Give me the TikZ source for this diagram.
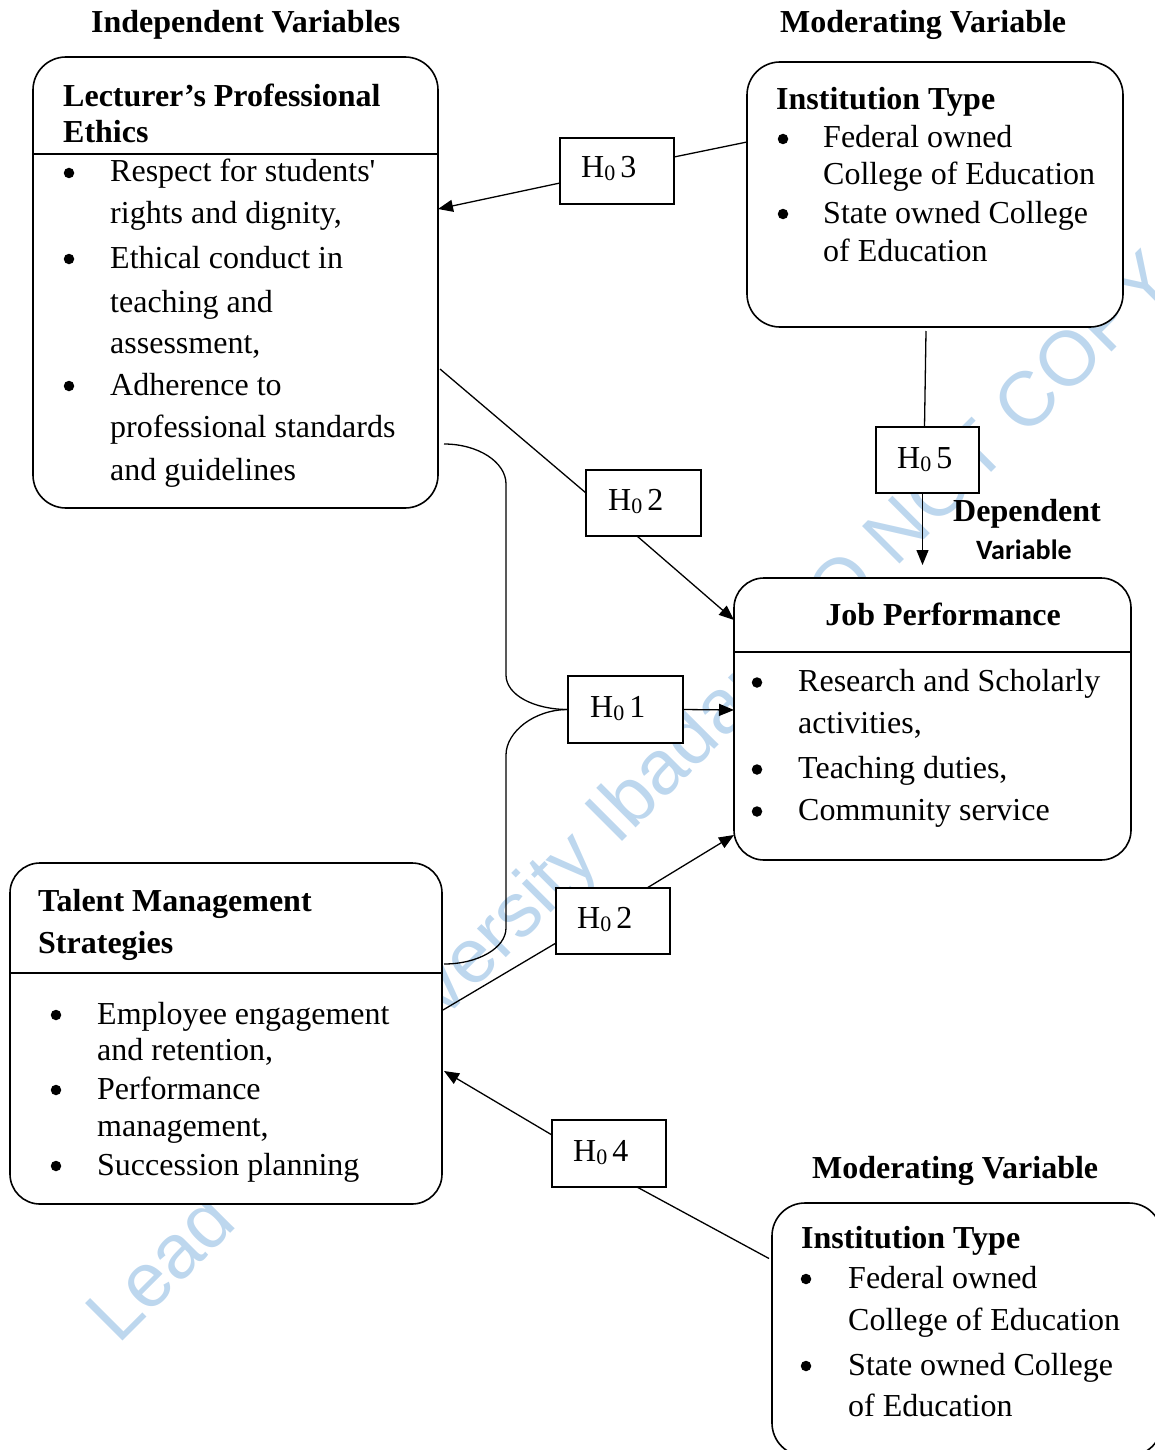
\documentclass[tikz,border=0pt]{standalone}
\usepackage{fontspec}
\setmainfont{Liberation Serif}
\newfontfamily\calfont{Carlito}
\newfontfamily\wmfont{Liberation Sans}
\usetikzlibrary{arrows.meta}
\definecolor{wmblue}{RGB}{189,215,238}
\newcommand\bodyfs{\fontsize{32}{38}\selectfont}
\newcommand\hnull{H\raisebox{-3pt}{\fontsize{22}{22}\selectfont 0}\hspace{5pt}}
\begin{document}
\begin{tikzpicture}[x=1pt,y=-1pt,
  box/.style={draw, line width=1.6pt, rounded corners=33pt, fill=white, anchor=north west, inner sep=0pt, outer sep=0pt},
  hbox/.style={draw, line width=1.4pt, fill=white, anchor=north west, inner sep=0pt, outer sep=0pt},
  txt/.style={anchor=base west, inner sep=0pt, font=\bodyfs},
  hd/.style={anchor=base west, inner sep=0pt, font=\bodyfs\bfseries},
  bul/.style={circle, fill=black, inner sep=0pt, minimum size=10.5pt},
  divider/.style={line width=2.6pt},
  conn/.style={line width=1.3pt},
  arr/.style={conn, -{Triangle[length=15pt,width=12pt]}}]
\useasboundingbox (0,0) rectangle (1155,1450);
\clip (0,0) rectangle (1155,1450);
% watermark
\node[rotate=45, anchor=base west, inner sep=0pt, text=wmblue, font=\wmfont\fontsize{77}{77}\selectfont] (wm) at (118,1346) {Lead City University Ibadan DO NOT COPY};
% titles
\node[hd] (ttl1) at (91,33) {Independent Variables};
\node[hd] (ttl2) at (780,33) {Moderating Variable};
\node[hd] (ttl3) at (812,1178) {Moderating Variable};
\node[hd] (ttl4) at (953,521) {Dependent};
\node[anchor=base west, inner sep=0pt, font=\calfont\bfseries\fontsize{28}{30}\selectfont] (ttl5) at (976,559) {Variable};
% main boxes
\node[box, minimum width=405pt, minimum height=451pt] (lpe) at (33,57) {};
\node[box, minimum width=376pt, minimum height=265pt] (inst1) at (747,62) {};
\node[box, rounded corners=30pt, minimum width=397pt, minimum height=282pt] (job) at (734,578) {};
\node[box, rounded corners=30pt, minimum width=432pt, minimum height=341pt] (tms) at (10,863) {};
\node[box, minimum width=390pt, minimum height=253pt] (inst2) at (772,1203) {};
% dividers
\coordinate (dv1) at (0,154);
\coordinate (dv2) at (0,652);
\coordinate (dv3) at (0,973);
\draw[divider] (lpe.west |- dv1) -- (lpe.east |- dv1);
\draw[divider] (job.west |- dv2) -- (job.east |- dv2);
\draw[divider] (tms.west |- dv3) -- (tms.east |- dv3);
% Lecturer box text
\node[hd] (l1) at (63,107) {Lecturer’s Professional};
\node[hd] (l2) at (63,143) {Ethics};
\node[bul] (lb1) at (69,173) {};
\node[bul] (lb2) at (69,259) {};
\node[bul] (lb3) at (69,386) {};
\node[txt] (l3) at (110,182) {Respect for students\textquotesingle};
\node[txt] (l4) at (110,223) {rights and dignity,};
\node[txt] (l5) at (110,268) {Ethical conduct in};
\node[txt] (l6) at (110,312) {teaching and};
\node[txt] (l7) at (110,353) {assessment,};
\node[txt] (l8) at (110,395) {Adherence to};
\node[txt] (l9) at (110,437) {professional standards};
\node[txt] (l10) at (110,480) {and guidelines};
% Institution top
\node[hd] (i1) at (776,110) {Institution Type};
\node[bul] (ib1) at (783,139) {};
\node[bul] (ib2) at (783,214) {};
\node[txt] (i2) at (823,148) {Federal owned};
\node[txt] (i3) at (823,185) {College of Education};
\node[txt] (i4) at (823,223) {State owned College};
\node[txt] (i5) at (823,261) {of Education};
% Job performance
\node[anchor=base, inner sep=0pt, font=\bodyfs\bfseries] (j1) at (943,625) {Job Performance};
\node[bul] (jb1) at (757,682.5) {};
\node[bul] (jb2) at (757,769.5) {};
\node[bul] (jb3) at (757,811.5) {};
\node[txt] (j2) at (798,691) {Research and Scholarly};
\node[txt] (j3) at (798,733) {activities,};
\node[txt] (j4) at (798,778) {Teaching duties,};
\node[txt] (j5) at (798,820) {Community service};
% Talent management
\node[hd] (t1) at (38,911) {Talent Management};
\node[hd] (t2) at (38,953) {Strategies};
\node[bul] (tb1) at (56,1015) {};
\node[bul] (tb2) at (56,1090) {};
\node[bul] (tb3) at (56,1166) {};
\node[txt] (t3) at (97,1024) {Employee engagement};
\node[txt] (t4) at (97,1060) {and retention,};
\node[txt] (t5) at (97,1099) {Performance};
\node[txt] (t6) at (97,1136) {management,};
\node[txt] (t7) at (97,1175) {Succession planning};
% Institution bottom
\node[hd] (n1) at (801,1248) {Institution Type};
\node[bul] (nb1) at (806,1279) {};
\node[bul] (nb2) at (806,1366) {};
\node[txt] (n2) at (848,1288) {Federal owned};
\node[txt] (n3) at (848,1330) {College of Education};
\node[txt] (n4) at (848,1375) {State owned College};
\node[txt] (n5) at (848,1416) {of Education};
% hypothesis boxes
\node[hbox, minimum width=114pt, minimum height=66pt] (h3) at (560,138) {};
\node[hbox, minimum width=103pt, minimum height=66pt] (h5) at (876,427) {};
\node[hbox, minimum width=115pt, minimum height=66pt] (h2a) at (586,470) {};
\node[hbox, minimum width=115pt, minimum height=67pt] (h1) at (568,676) {};
\node[hbox, minimum width=114pt, minimum height=66pt] (h2b) at (556,888) {};
\node[hbox, minimum width=114pt, minimum height=67pt] (h4) at (552,1120) {};
\node[txt] (h3t) at (581,178) {\hnull 3};
\node[txt] (h5t) at (897,468) {\hnull 5};
\node[txt] (h2at) at (608,510) {\hnull 2};
\node[txt] (h1t) at (590,717) {\hnull 1};
\node[txt] (h2bt) at (577,928) {\hnull 2};
\node[txt] (h4t) at (573,1161) {\hnull 4};
% connectors
\coordinate (k1) at (506,484);
\coordinate (k2) at (506,675);
\coordinate (k3) at (506,928);
\coordinate (k4) at (506,755);
\draw[arr] ([yshift=-12pt]h3.west) -- ([yshift=73.5pt]lpe.east);
\draw[conn] ([yshift=52.5pt]inst1.west) -- ([yshift=14pt]h3.east);
\draw[conn] ([xshift=-9pt,yshift=-4pt]inst1.south) -- ([xshift=-3pt]h5.north);
\draw[arr] ([xshift=-5pt]h5.south) -- ([xshift=-10pt,yshift=13pt]job.north);
\draw[conn] ([xshift=2pt,yshift=-86.5pt]lpe.east) -- ([yshift=10pt]h2a.west);
\draw[arr] ([xshift=-6.5pt]h2a.south) -- ([yshift=99pt]job.west);
\draw[conn] ([xshift=6pt,yshift=-161.5pt]lpe.east) .. controls +(34,0) and +(0,-22) .. (k1) -- (k2) .. controls +(0,20) and +(-34,0) .. (h1.west);
\draw[conn] ([xshift=2pt,yshift=69.5pt]tms.east) .. controls +(34,0) and +(0,20) .. (k3) -- (k4) .. controls +(0,-23) and +(-34,0) .. (h1.west);
\draw[arr] (h1.east) -- ([yshift=9pt]job.west);
\draw[conn] ([xshift=1pt,yshift=23.5pt]tms.east) -- ([yshift=-22pt]h2b.west);
\draw[arr] ([xshift=34pt]h2b.north) -- ([yshift=-116pt]job.west);
\draw[arr] ([yshift=18.5pt]h4.west) -- ([xshift=2pt,yshift=-37.5pt]tms.east);
\draw[conn] ([xshift=-3pt,yshift=71pt]inst2.west) -- ([xshift=28pt]h4.south);
\end{tikzpicture}
\end{document}
